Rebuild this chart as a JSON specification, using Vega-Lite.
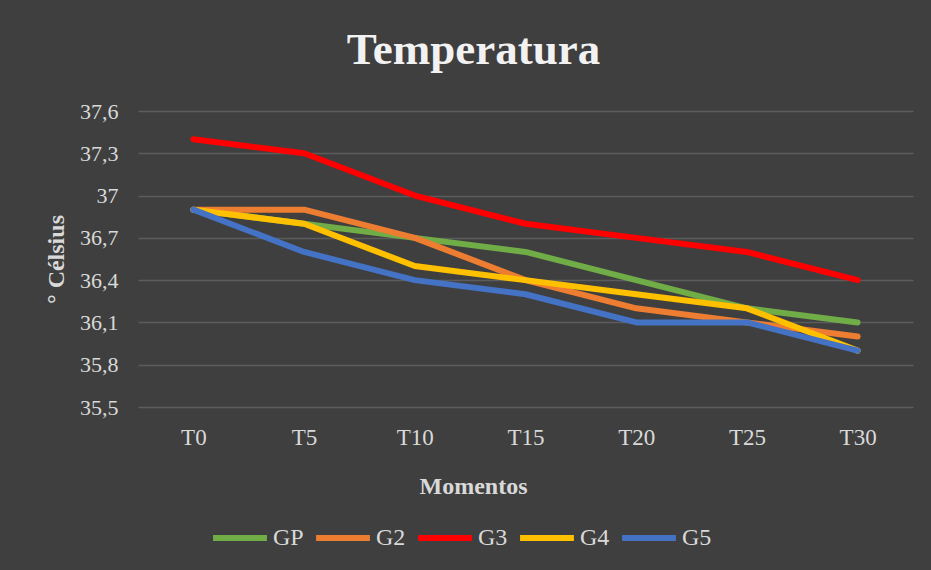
{
  "$schema": "https://vega.github.io/schema/vega-lite/v6.json",
  "autosize": "none",
  "width": 775,
  "height": 296,
  "padding": {"left": 138, "top": 111, "right": 18, "bottom": 163},
  "background": "#3f3f3f",
  "title": {
    "text": "Temperatura",
    "font": "Liberation Serif",
    "fontSize": 45,
    "fontWeight": "bold",
    "color": "#f2f2f2",
    "anchor": "middle",
    "frame": "group",
    "dx": -52,
    "offset": 27
  },
  "config": {
    "view": {"stroke": null},
    "font": "Liberation Serif"
  },
  "data": {
    "values": [
      {"momento": "T0", "grupo": "GP", "temp": 36.9},
      {"momento": "T5", "grupo": "GP", "temp": 36.8},
      {"momento": "T10", "grupo": "GP", "temp": 36.7},
      {"momento": "T15", "grupo": "GP", "temp": 36.6},
      {"momento": "T20", "grupo": "GP", "temp": 36.4},
      {"momento": "T25", "grupo": "GP", "temp": 36.2},
      {"momento": "T30", "grupo": "GP", "temp": 36.1},
      {"momento": "T0", "grupo": "G2", "temp": 36.9},
      {"momento": "T5", "grupo": "G2", "temp": 36.9},
      {"momento": "T10", "grupo": "G2", "temp": 36.7},
      {"momento": "T15", "grupo": "G2", "temp": 36.4},
      {"momento": "T20", "grupo": "G2", "temp": 36.2},
      {"momento": "T25", "grupo": "G2", "temp": 36.1},
      {"momento": "T30", "grupo": "G2", "temp": 36.0},
      {"momento": "T0", "grupo": "G3", "temp": 37.4},
      {"momento": "T5", "grupo": "G3", "temp": 37.3},
      {"momento": "T10", "grupo": "G3", "temp": 37.0},
      {"momento": "T15", "grupo": "G3", "temp": 36.8},
      {"momento": "T20", "grupo": "G3", "temp": 36.7},
      {"momento": "T25", "grupo": "G3", "temp": 36.6},
      {"momento": "T30", "grupo": "G3", "temp": 36.4},
      {"momento": "T0", "grupo": "G4", "temp": 36.9},
      {"momento": "T5", "grupo": "G4", "temp": 36.8},
      {"momento": "T10", "grupo": "G4", "temp": 36.5},
      {"momento": "T15", "grupo": "G4", "temp": 36.4},
      {"momento": "T20", "grupo": "G4", "temp": 36.3},
      {"momento": "T25", "grupo": "G4", "temp": 36.2},
      {"momento": "T30", "grupo": "G4", "temp": 35.9},
      {"momento": "T0", "grupo": "G5", "temp": 36.9},
      {"momento": "T5", "grupo": "G5", "temp": 36.6},
      {"momento": "T10", "grupo": "G5", "temp": 36.4},
      {"momento": "T15", "grupo": "G5", "temp": 36.3},
      {"momento": "T20", "grupo": "G5", "temp": 36.1},
      {"momento": "T25", "grupo": "G5", "temp": 36.1},
      {"momento": "T30", "grupo": "G5", "temp": 35.9}
    ]
  },
  "mark": {"type": "line", "strokeWidth": 6, "strokeCap": "round", "strokeJoin": "round"},
  "encoding": {
    "x": {
      "field": "momento",
      "type": "ordinal",
      "sort": ["T0", "T5", "T10", "T15", "T20", "T25", "T30"],
      "scale": {"type": "point", "padding": 0.5},
      "axis": {
        "title": "Momentos",
        "titleFont": "Liberation Serif",
        "titleFontSize": 24,
        "titleFontWeight": "bold",
        "titleColor": "#d9d9d9",
        "titlePadding": 25,
        "titleX": 335,
        "titleAnchor": "middle",
        "labelFont": "Liberation Serif",
        "labelFontSize": 23,
        "labelColor": "#d9d9d9",
        "labelAngle": 0,
        "labelPadding": 19,
        "domain": false,
        "ticks": false,
        "grid": false
      }
    },
    "y": {
      "field": "temp",
      "type": "quantitative",
      "scale": {"domain": [35.5, 37.6], "nice": false, "zero": false},
      "axis": {
        "values": [35.5, 35.8, 36.1, 36.4, 36.7, 37.0, 37.3, 37.6],
        "labelExpr": "replace(replace(format(datum.value, '.1f'), '.', ','), ',0', '')",
        "title": "° Célsius",
        "titleFont": "Liberation Serif",
        "titleFontSize": 24,
        "titleFontWeight": "bold",
        "titleColor": "#d9d9d9",
        "titlePadding": 11,
        "labelFont": "Liberation Serif",
        "labelFontSize": 22,
        "labelColor": "#d9d9d9",
        "labelPadding": 20,
        "domain": false,
        "ticks": false,
        "grid": true,
        "gridColor": "#5c5c5c",
        "gridWidth": 1.3
      }
    },
    "color": {
      "field": "grupo",
      "type": "nominal",
      "sort": ["GP", "G2", "G3", "G4", "G5"],
      "scale": {
        "domain": ["GP", "G2", "G3", "G4", "G5"],
        "range": ["#70AD47", "#ED7D31", "#FF0000", "#FFC000", "#4472C4"]
      },
      "legend": {
        "title": null,
        "orient": "none",
        "legendX": 72,
        "legendY": 397,
        "direction": "horizontal",
        "symbolType": "stroke",
        "symbolSize": 2900,
        "symbolStrokeWidth": 6,
        "labelFont": "Liberation Serif",
        "labelFontSize": 24,
        "labelColor": "#d9d9d9",
        "labelOffset": 3,
        "columnPadding": 0
      }
    }
  }
}
